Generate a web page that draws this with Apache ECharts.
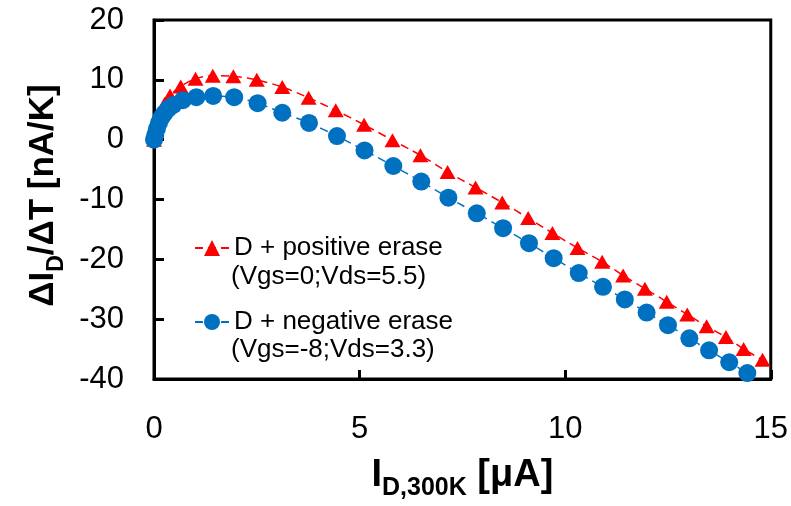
<!DOCTYPE html>
<html>
<head>
<meta charset="utf-8">
<script src="https://cdn.jsdelivr.net/npm/echarts@6/dist/echarts.min.js"></script>
<style>
  html, body { margin: 0; padding: 0; background: #fff; }
  #chart { width: 791px; height: 506px; }
</style>
</head>
<body>
<div id="chart"></div>
<script>
// Drain current I_D at 300 K [µA] and its temperature coefficient dI_D/dT [nA/K]
const positiveEraseX = [0, 0.05, 0.1, 0.17, 0.26, 0.39, 0.65, 1.01, 1.43, 1.93, 2.5, 3.12, 3.76, 4.42, 5.11, 5.8, 6.48, 7.14, 7.82, 8.47, 9.1, 9.69, 10.3, 10.9, 11.41, 11.94, 12.47, 12.97, 13.44, 13.91, 14.34, 14.8];
const positiveEraseY = [0, 1.5, 3.0, 4.5, 6.0, 7.4, 8.9, 10.2, 10.7, 10.6, 10.0, 8.8, 7.0, 4.9, 2.5, -0.1, -2.6, -5.4, -8.0, -10.5, -13.1, -15.6, -18.1, -20.4, -22.7, -24.9, -27.1, -29.2, -31.2, -33.0, -35.0, -36.8];

const negativeEraseX = [0, 0.03, 0.07, 0.12, 0.18, 0.25, 0.35, 0.47, 0.7, 1.03, 1.44, 1.95, 2.52, 3.12, 3.77, 4.45, 5.12, 5.82, 6.5, 7.16, 7.85, 8.49, 9.12, 9.72, 10.33, 10.92, 11.45, 11.98, 12.5, 13.02, 13.5, 13.99, 14.43];
const negativeEraseY = [0, 0.8, 1.8, 2.8, 3.7, 4.4, 5.2, 5.8, 6.6, 7.1, 7.3, 7.1, 6.1, 4.5, 2.8, 0.6, -1.8, -4.4, -7.0, -9.7, -12.3, -14.8, -17.3, -19.8, -22.3, -24.6, -26.7, -28.9, -31.0, -33.2, -35.2, -37.2, -39.0];

const seriesNames = ['D + positive erase', 'D + negative erase'];
const seriesConditions = ['(Vgs=0;Vds=5.5)', '(Vgs=-8;Vds=3.3)'];

const xTicks = [0, 5, 10, 15];
const yTicks = [-40, -30, -20, -10, 0, 10, 20];

const FONT = '"Liberation Sans", Arial, sans-serif';
const RED = '#FF0000';
const BLUE = '#0070C0';

const pairs = (xs, ys) => xs.map((x, i) => [x, ys[i]]);

const chart = echarts.init(document.getElementById('chart'), null, { renderer: 'canvas' });

// Axis titles with a lowered subscript
const makeTitleRich = (main, sub) => ({
  m: { fontFamily: FONT, fontSize: main, fontWeight: 'bold', color: '#000', lineHeight: 50 },
  s: { fontFamily: FONT, fontSize: sub, fontWeight: 'bold', color: '#000', lineHeight: sub, verticalAlign: 'bottom' }
});

chart.setOption({
  animation: false,
  backgroundColor: '#fff',
  grid: {
    left: 154, right: 20, top: 20, bottom: 125,
    show: true, borderColor: '#000', borderWidth: 3, backgroundColor: 'transparent'
  },
  xAxis: {
    type: 'value',
    min: xTicks[0], max: xTicks[xTicks.length - 1], interval: 5,
    name: '{m|I}{s|D,300K}{m| [μA]}',
    nameLocation: 'middle',
    nameGap: 72,
    nameTextStyle: { rich: makeTitleRich(38, 25) },
    axisLine: { show: true, onZero: false, lineStyle: { color: '#000', width: 3 } },
    axisTick: { show: true, inside: true, length: 9, lineStyle: { color: '#000', width: 3 } },
    axisLabel: { color: '#000', fontFamily: FONT, fontSize: 31, margin: 35 },
    splitLine: { show: false }
  },
  yAxis: {
    type: 'value',
    min: yTicks[0], max: yTicks[yTicks.length - 1], interval: 10,
    name: '{m|ΔI}{s|D}{m|/ΔT [nA/K]}',
    nameLocation: 'middle',
    nameRotate: 90,
    nameGap: 76,
    nameTextStyle: { rich: makeTitleRich(35, 23), padding: [0, 0, 0, 8] },
    axisLine: { show: true, onZero: false, lineStyle: { color: '#000', width: 3 } },
    axisTick: { show: true, inside: true, length: 10, lineStyle: { color: '#000', width: 3 } },
    axisLabel: { color: '#000', fontFamily: FONT, fontSize: 31, margin: 30 },
    splitLine: { show: false }
  },
  legend: [
    {
      data: [seriesNames[0]],
      left: 194, top: 235, padding: 0,
      itemWidth: 34, itemHeight: 20,
      textStyle: { color: '#000', fontFamily: FONT, fontSize: 26 }
    },
    {
      data: [seriesNames[1]],
      left: 194, top: 309, padding: 0,
      itemWidth: 34, itemHeight: 20,
      textStyle: { color: '#000', fontFamily: FONT, fontSize: 26 }
    }
  ],
  graphic: [
    { type: 'text', x: 231, y: 277, style: { text: seriesConditions[0], font: '26px ' + FONT, fill: '#000', verticalAlign: 'middle' } },
    { type: 'text', x: 231, y: 350, style: { text: seriesConditions[1], font: '26px ' + FONT, fill: '#000', verticalAlign: 'middle' } }
  ],
  series: [
    {
      name: seriesNames[0],
      type: 'line',
      data: pairs(positiveEraseX, positiveEraseY),
      smooth: 0.3,
      symbol: 'triangle',
      symbolSize: [16, 14],
      itemStyle: { color: RED },
      lineStyle: { color: RED, width: 1.5, type: [8, 5] },
      z: 2
    },
    {
      name: seriesNames[1],
      type: 'line',
      data: pairs(negativeEraseX, negativeEraseY),
      smooth: 0.3,
      symbol: 'circle',
      symbolSize: 18,
      itemStyle: { color: BLUE },
      lineStyle: { color: BLUE, width: 1.5, type: [8, 5] },
      z: 3
    }
  ]
});
</script>
</body>
</html>
